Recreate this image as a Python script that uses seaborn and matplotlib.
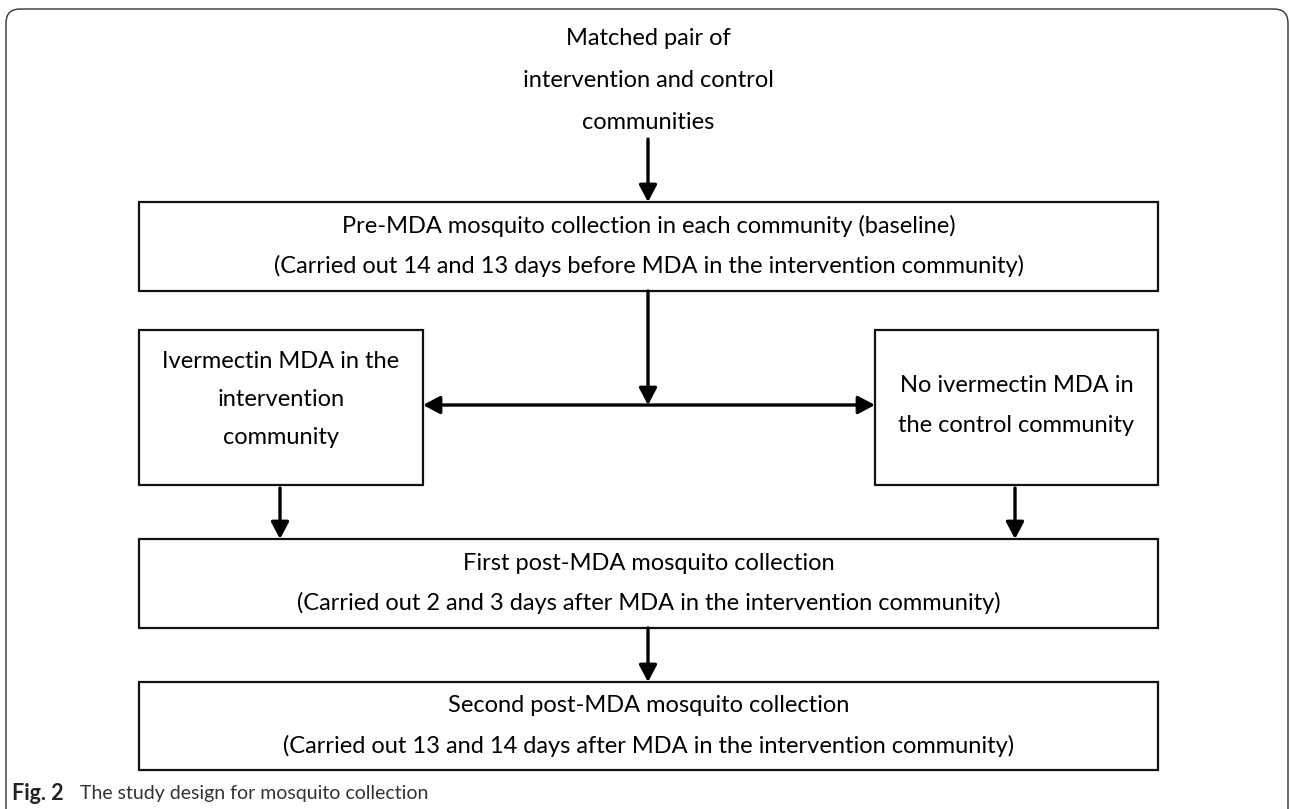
import matplotlib
matplotlib.use('Agg')
import matplotlib.pyplot as plt
from matplotlib.patches import Rectangle, FancyBboxPatch
import seaborn as sns

sns.set_theme(style='white')
plt.rcParams['font.family'] = ['Lato', 'DejaVu Sans']

# flowchart texts
top_text = ['Matched pair of', 'intervention and control', 'communities']
baseline_text = ['Pre-MDA mosquito collection in each community (baseline)',
                 '(Carried out 14 and 13 days before MDA in the intervention community)']
interv_text = ['Ivermectin MDA in the', 'intervention', 'community']
control_text = ['No ivermectin MDA in', 'the control community']
post1_text = ['First post-MDA mosquito collection',
              '(Carried out 2 and 3 days after MDA in the intervention community)']
post2_text = ['Second post-MDA mosquito collection',
              '(Carried out 13 and 14 days after MDA in the intervention community)']
caption_bold = 'Fig. 2'
caption_text = 'The study design for mosquito collection'

# layout in pixel coordinates: box (x0, y0, x1, y1), text centre y, line gap
boxes = [
    ((139, 202, 1158, 291), 246, 40, baseline_text),
    ((139, 330, 423, 485), 399, 38, interv_text),
    ((875, 330, 1158, 485), 405, 40, control_text),
    ((139, 539, 1158, 628), 583, 40, post1_text),
    ((139, 682, 1158, 770), 726, 40, post2_text),
]
arrows = [
    ((648, 139), (648, 202), '-|>'),
    ((648, 291), (648, 405), '-|>'),
    ((423, 405), (875, 405), '<|-|>'),
    ((280, 488), (280, 539), '-|>'),
    ((1015, 488), (1015, 539), '-|>'),
    ((648, 628), (648, 682), '-|>'),
]
fs = 17

fig = plt.figure(figsize=(12.9, 8.09), dpi=100)
ax = fig.add_axes([0, 0, 1, 1])
ax.set_xlim(0, 1290)
ax.set_ylim(809, 0)
ax.axis('off')

# outer frame with rounded top corners
frame = FancyBboxPatch((6, 9), 1282, 850, boxstyle='round,pad=0,rounding_size=14',
                       fill=False, ec='#333333', lw=1.0)
ax.add_patch(frame)


def draw_lines(lines, cx, cy, gap):
    n = len(lines)
    for i, t in enumerate(lines):
        y = cy + (i - (n - 1) / 2) * gap
        ax.text(cx, y, t, ha='center', va='center', fontsize=fs, color='black')


draw_lines(top_text, 648, 80, 42)

for (x0, y0, x1, y1), cy, gap, lines in boxes:
    ax.add_patch(Rectangle((x0, y0), x1 - x0, y1 - y0, fill=False, ec='#111111', lw=1.6))
    draw_lines(lines, (x0 + x1) / 2, cy, gap)

for start, end, style in arrows:
    ax.annotate('', xy=end, xytext=start,
                arrowprops=dict(arrowstyle=style + ',head_length=0.85,head_width=0.45',
                                color='black', lw=2.4, shrinkA=0, shrinkB=0))

ax.text(12, 793, caption_bold, ha='left', va='center', fontsize=15.5, fontweight='bold', color='#222222')
ax.text(80, 793, caption_text, ha='left', va='center', fontsize=14, color='#333333')

fig.savefig('out.png', dpi=100)
plt.close(fig)
